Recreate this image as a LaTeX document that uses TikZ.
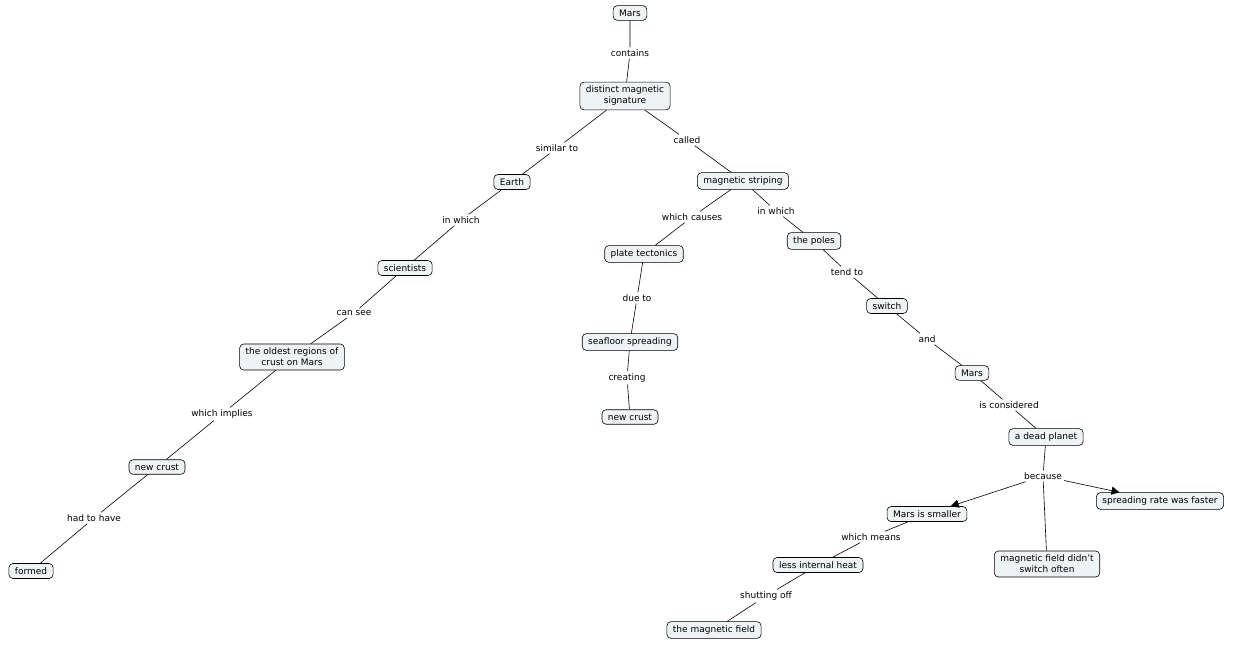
\documentclass[tikz,border=0pt]{standalone}
\usepackage{fontspec}
\setmainfont{DejaVu Sans}
\usetikzlibrary{arrows.meta}
\begin{document}
\begin{tikzpicture}[x=1pt,y=-1pt,
 c/.style={draw=black,fill={rgb,255:red,238;green,243;blue,245},rounded corners=4pt,font=\fontsize{9}{11}\selectfont,inner xsep=6pt,inner ysep=4pt,align=center,line width=0.6pt},
 l/.style={font=\fontsize{9}{11}\selectfont,inner sep=2pt},
 e/.style={line width=0.6pt},
 a/.style={line width=0.6pt,-{Triangle[length=8pt,width=8pt]}}]
\useasboundingbox (0,0) rectangle (1247,646);
\node[c] (mars) at (630,13) {Mars};
\node[c] (dms) at (625,96) {distinct magnetic\\signature};
\node[c] (earth) at (512,182) {Earth};
\node[c] (ms) at (743,181) {magnetic striping};
\node[c] (sci) at (405,268) {scientists};
\node[c] (pt) at (644,254) {plate tectonics};
\node[c] (poles) at (814,241) {the poles};
\node[c] (sw) at (887,306) {switch};
\node[c] (sfs) at (630,342) {seafloor spreading};
\node[c] (old) at (292,357) {the oldest regions of\\crust on Mars};
\node[c] (mars2) at (972,373) {Mars};
\node[c] (nc1) at (630,417) {new crust};
\node[c] (dead) at (1046,437) {a dead planet};
\node[c] (nc2) at (157,467) {new crust};
\node[c] (small) at (927,514) {Mars is smaller};
\node[c] (rate) at (1160,501) {spreading rate was faster};
\node[c] (mf) at (1047,564) {magnetic field didn't\\switch often};
\node[c] (heat) at (818,565) {less internal heat};
\node[c] (formed) at (31,571) {formed};
\node[c] (tmf) at (714,630) {the magnetic field};

\node[l] (l1) at (630,53) {contains};
\node[l] (l2) at (557,148) {similar to};
\node[l] (l3) at (687,140) {called};
\node[l] (l4) at (461,220) {in which};
\node[l] (l5) at (692,217) {which causes};
\node[l] (l6) at (776,211) {in which};
\node[l] (l7) at (637,298) {due to};
\node[l] (l8) at (847,272) {tend to};
\node[l] (l9) at (354,313) {can see};
\node[l] (l10) at (927,339) {and};
\node[l] (l11) at (627,378) {creating};
\node[l] (l12) at (1009,405) {is considered};
\node[l] (l13) at (222,414) {which implies};
\node[l] (l14) at (1043,476) {because};
\node[l] (l15) at (94,518) {had to have};
\node[l] (l16) at (871,537) {which means};
\node[l] (l17) at (766,596) {shutting off};

\draw[e] (mars)--(l1)--(dms);
\draw[e] (dms)--(l2)--(earth);
\draw[e] (dms)--(l3)--(ms);
\draw[e] (earth)--(l4)--(sci);
\draw[e] (ms)--(l5)--(pt);
\draw[e] (ms)--(l6)--(poles);
\draw[e] (pt)--(l7)--(sfs);
\draw[e] (poles)--(l8)--(sw);
\draw[e] (sci)--(l9)--(old);
\draw[e] (sw)--(l10)--(mars2);
\draw[e] (sfs)--(l11)--(nc1);
\draw[e] (mars2)--(l12)--(dead);
\draw[e] (old)--(l13)--(nc2);
\draw[e] (dead)--(l14);
\draw[a] (l14)--(small);
\draw[a] (l14)--(rate);
\draw[e] (l14)--(mf);
\draw[e] (nc2)--(l15)--(formed);
\draw[e] (small)--(l16)--(heat);
\draw[e] (heat)--(l17)--(tmf);
\end{tikzpicture}
\end{document}
